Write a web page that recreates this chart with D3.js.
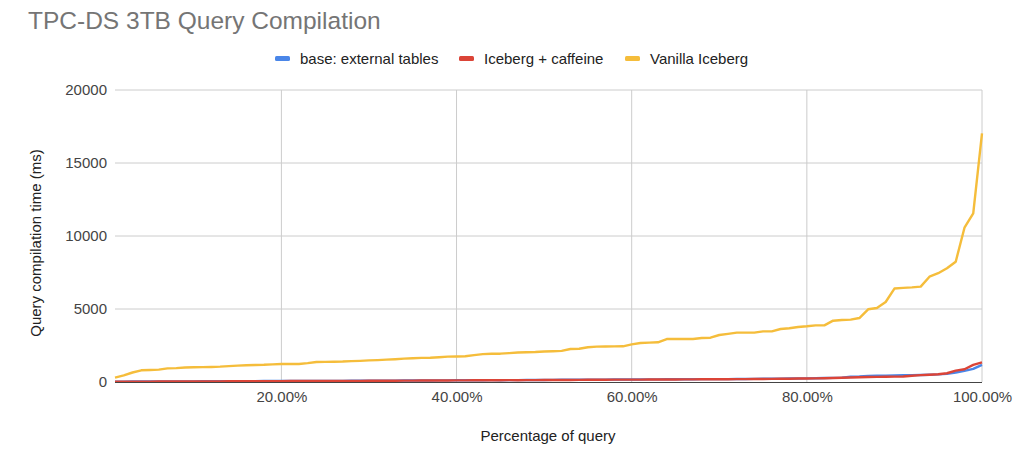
<!DOCTYPE html>
<html lang="en">
  <head>
    <meta charset="utf-8">
    <title>TPC-DS 3TB Query Compilation</title>
    <script src="https://d3js.org/d3.v7.min.js"></script>
    <style>
      body { margin: 0; background: #fff; }
      text { font-family: "Liberation Sans", Arial, sans-serif; }
    </style>
  </head>
  <body>
    <script>
    // one point per query, sorted, x = i / 100
    const pct = d3.range(1, 101).map((i) => i / 100)

    const baseExternal = [
      20, 25, 30, 30, 35, 35, 40, 40, 45, 45,
      50, 50, 55, 55, 60, 60, 60, 65, 65, 70,
      70, 70, 75, 75, 80, 80, 80, 85, 85, 90,
      90, 95, 95, 100, 100, 105, 105, 110, 110, 115,
      115, 120, 120, 125, 125, 130, 130, 135, 140, 140,
      145, 150, 150, 155, 160, 160, 165, 170, 170, 175,
      175, 180, 180, 185, 185, 190, 190, 195, 195, 200,
      200, 205, 210, 215, 220, 225, 230, 235, 240, 250,
      260, 270, 280, 300, 360, 380, 420, 430, 440, 450,
      460, 470, 480, 500, 520, 560, 650, 760, 900, 1170
    ]
    const icebergCaffeine = [
      15, 20, 20, 25, 25, 30, 30, 35, 35, 40,
      40, 45, 45, 50, 50, 55, 55, 60, 60, 60,
      65, 65, 70, 70, 75, 75, 75, 80, 80, 85,
      85, 90, 90, 95, 95, 100, 100, 105, 105, 110,
      110, 115, 115, 120, 120, 125, 125, 130, 130, 135,
      135, 140, 140, 145, 150, 150, 155, 160, 160, 165,
      165, 170, 170, 175, 175, 180, 180, 185, 185, 190,
      190, 195, 200, 205, 210, 215, 220, 225, 235, 240,
      250, 260, 270, 290, 310, 330, 340, 350, 360, 370,
      380, 430, 470, 500, 530, 600, 780, 870, 1170, 1350
    ]
    const vanillaIceberg = [
      300, 450, 650, 800, 820, 850, 935, 950, 990, 1010,
      1020, 1030, 1050, 1090, 1125, 1150, 1165, 1180, 1210, 1235,
      1235, 1235, 1290, 1370, 1380, 1390, 1400, 1430, 1450, 1480,
      1500, 1530, 1560, 1600, 1630, 1650, 1665, 1700, 1735, 1745,
      1760, 1840, 1910, 1930, 1940, 1980, 2020, 2040, 2050, 2090,
      2110, 2130, 2260, 2280, 2380, 2425, 2430, 2440, 2445, 2580,
      2670, 2700, 2720, 2945, 2945, 2945, 2945, 3010, 3035, 3220,
      3300, 3380, 3380, 3380, 3470, 3470, 3630, 3680, 3770, 3815,
      3880, 3880, 4200, 4250, 4270, 4380, 4980, 5070, 5480, 6400,
      6450, 6480, 6530, 7210, 7450, 7790, 8240, 10570, 11550, 17030
    ]

    const seriesNames = ["base: external tables", "Iceberg + caffeine", "Vanilla Iceberg"]
    const seriesColors = ["#4a86e8", "#db4437", "#f5bd3b"]
    const seriesValues = [baseExternal, icebergCaffeine, vanillaIceberg]

    const yTicks = [0, 5000, 10000, 15000, 20000]
    const xTicks = [0.2, 0.4, 0.6, 0.8, 1.0]

    const width = 1024, height = 462
    const plot = { left: 115, right: 982, top: 90, bottom: 382 }

    const svg = d3.select("body").append("svg")
      .attr("width", width)
      .attr("height", height)

    const scaleX = d3.scaleLinear()
      .domain([0.01, 1])
      .range([plot.left, plot.right])

    const scaleY = d3.scaleLinear()
      .domain([0, 20000])
      .range([plot.bottom, plot.top])

    // title
    svg.append("text")
      .attr("x", 28)
      .attr("y", 29)
      .attr("fill", "#757575")
      .style("font-size", "24.5px")
      .text("TPC-DS 3TB Query Compilation")

    // gridlines
    svg.append("g")
      .selectAll("line")
      .data(yTicks.filter((d) => d > 0))
      .join("line")
        .attr("x1", plot.left)
        .attr("x2", plot.right)
        .attr("y1", (d) => scaleY(d))
        .attr("y2", (d) => scaleY(d))
        .attr("stroke", "#cccccc")

    svg.append("g")
      .selectAll("line")
      .data(xTicks)
      .join("line")
        .attr("x1", (d) => scaleX(d))
        .attr("x2", (d) => scaleX(d))
        .attr("y1", plot.top)
        .attr("y2", plot.bottom)
        .attr("stroke", "#cccccc")

    // axes (labels only, Sheets style)
    const yAxis = d3.axisLeft(scaleY)
      .tickValues(yTicks)
      .tickSize(0)
      .tickPadding(8)
      .tickFormat(d3.format("d"))
    const gy = svg.append("g")
      .attr("transform", `translate(${plot.left}, 0)`)
      .call(yAxis)
    gy.select(".domain").remove()
    gy.selectAll("text")
      .attr("fill", "#444")
      .style("font-size", "15px")
      .style("font-family", "'Liberation Sans', Arial, sans-serif")

    const xAxis = d3.axisBottom(scaleX)
      .tickValues(xTicks)
      .tickSize(0)
      .tickPadding(9)
      .tickFormat(d3.format(".2%"))
    const gx = svg.append("g")
      .attr("transform", `translate(0, ${plot.bottom})`)
      .call(xAxis)
    gx.select(".domain").remove()
    gx.selectAll("text")
      .attr("fill", "#444")
      .style("font-size", "15px")
      .style("font-family", "'Liberation Sans', Arial, sans-serif")

    // lines
    const line = d3.line()
      .x((d) => scaleX(d[0]))
      .y((d) => scaleY(d[1]))

    seriesValues.forEach((vals, k) => {
      svg.append("path")
        .datum(pct.map((p, i) => [p, vals[i]]))
        .attr("d", line)
        .attr("fill", "none")
        .attr("stroke", seriesColors[k])
        .attr("stroke-width", 2.4)
        .attr("stroke-linejoin", "round")
    })

    // baseline
    svg.append("line")
      .attr("x1", plot.left)
      .attr("x2", plot.right)
      .attr("y1", plot.bottom + 0.5)
      .attr("y2", plot.bottom + 0.5)
      .attr("stroke", "#444")
      .attr("stroke-width", 1)

    // axis titles
    svg.append("text")
      .attr("transform", "rotate(-90)")
      .attr("x", -243)
      .attr("y", 41)
      .attr("text-anchor", "middle")
      .attr("fill", "#222")
      .style("font-size", "15px")
      .text("Query compilation time (ms)")

    svg.append("text")
      .attr("x", 548)
      .attr("y", 441)
      .attr("text-anchor", "middle")
      .attr("fill", "#222")
      .style("font-size", "15px")
      .text("Percentage of query")

    // legend
    const legendX = [275, 459, 625]
    const legend = svg.append("g")
    seriesNames.forEach((name, k) => {
      legend.append("rect")
        .attr("x", legendX[k])
        .attr("y", 56)
        .attr("width", 15)
        .attr("height", 5)
        .attr("rx", 1.5)
        .attr("fill", seriesColors[k])
      legend.append("text")
        .attr("x", legendX[k] + 25)
        .attr("y", 64)
        .attr("fill", "#222")
        .style("font-size", "15px")
        .text(name)
    })
    </script>
  </body>
</html>
